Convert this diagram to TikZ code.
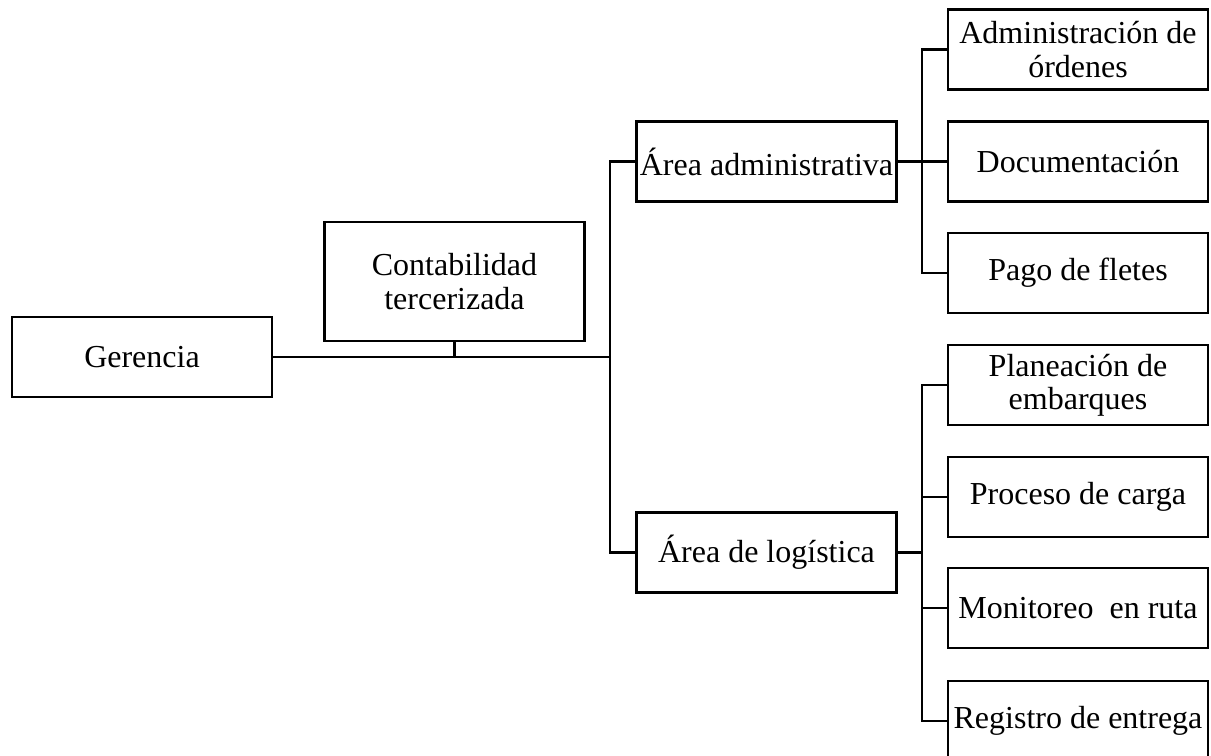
\documentclass[tikz,border=0pt]{standalone}
\usepackage{fontspec}
\setmainfont{Liberation Serif}
\begin{document}
\begin{tikzpicture}[x=0.75pt,y=-0.75pt,
  unit/.style={draw,line width=1.8pt,rectangle,minimum width=195pt,minimum height=60pt,
    inner sep=0pt,align=center,font=\fontsize{24}{25}\selectfont},
  link/.style={line width=1.8pt}]
\clip (0,0) rectangle (1211,756);
% top level
\node[unit] (ger) at (142,357) {Gerencia};
\node[unit,minimum height=89pt] (con) at (454.5,281.5) {Contabilidad\\tercerizada};
% areas
\node[unit] (adm) at (766.5,161.5) {Área administrativa};
\node[unit] (log) at (766.5,552.5) {Área de logística};
% administrative tasks
\node[unit] (ord) at (1078,49.5) {Administración de\\órdenes};
\node[unit] (doc) at (1078,161.5) {Documentación};
\node[unit] (pag) at (1078,273) {Pago de fletes};
% logistics tasks
\node[unit] (pla) at (1078,385) {Planeación de\\embarques};
\node[unit] (pro) at (1078,497) {Proceso de carga};
\node[unit] (mon) at (1078,608) {Monitoreo~ en ruta};
\node[unit] (reg) at (1078,721) {Registro de entrega};
% junctions
\coordinate (j) at (610,357);
\coordinate (ja) at (922,161.5);
\coordinate (jl) at (922,552.5);
% connectors
\draw[link] (ger.east) -- (j);
\draw[link] (con.south) -- (con.south |- j);
\draw[link] (adm.west) -| (j) |- (log.west);
\draw[link] (adm.east) -- (ja);
\draw[link] (ord.west) -| (ja) |- (pag.west);
\draw[link] (ja) -- (doc.west);
\draw[link] (log.east) -- (jl);
\draw[link] (pla.west) -| (jl) |- (reg.west);
\draw[link] (pro.west) -| (jl);
\draw[link] (mon.west) -| (jl);
\end{tikzpicture}
\end{document}
